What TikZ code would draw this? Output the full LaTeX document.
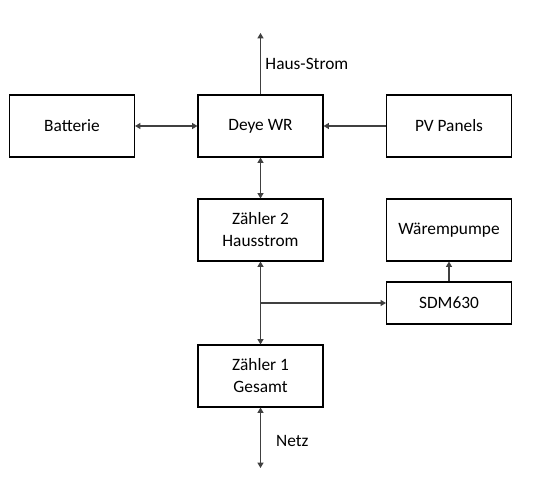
\documentclass[tikz,border=0pt]{standalone}
\usepackage{fontspec}
\setmainfont{Carlito}
\usetikzlibrary{arrows.meta}

\begin{document}
\begin{tikzpicture}[x=0.75pt,y=-0.75pt,
        link/.style={draw=black!75,line width=0.8pt},
        tip/.style={-{Triangle[length=4pt,width=4.5pt]}},
        tips/.style={{Triangle[length=4pt,width=4.5pt]}-{Triangle[length=4pt,width=4.5pt]}}]
        \useasboundingbox (0,0) rectangle (535,481);
        \begin{scope}[every node/.style={rectangle,draw=black,line width=0.8pt,minimum width=93.75pt,minimum height=46.5pt,font=\fontsize{13pt}{16.5pt}\selectfont,align=center}]
            \node (bat) at (72, 126) {Batterie};
            \node (wr) at (260.5, 126) {Deye WR};
            \node (pv) at (449, 126) {PV Panels};
            \node (z2) at (260.5, 230) {Zähler 2\\Hausstrom};
            \node (wp) at (449, 230) {Wärempumpe};
            \node (sdm) [minimum height=31.5pt] at (449, 303) {SDM630};
            \node (z1) at (260.5, 376) {Zähler 1\\Gesamt};
        \end{scope}
        \coordinate (haus) at (260.5, 33);
        \coordinate (netz) at (260.5, 468);
        \coordinate (br) at (260.5, 303);
        \path [tip] (wr) edge[link] node[pos=0.5,anchor=west,font=\fontsize{13pt}{16.5pt}\selectfont,xshift=0pt] {Haus-Strom} (haus);
        \path [tips] (bat) edge[link] (wr);
        \path [tip] (pv) edge[link] (wr);
        \path [tips] (wr) edge[link] (z2);
        \path [tips] (z2) edge[link] (z1);
        \path [tip] (br) edge[link] (sdm);
        \path [tip] (sdm) edge[link] (wp);
        \path [tips] (z1) edge[link] node[pos=0.55,anchor=west,font=\fontsize{13pt}{16.5pt}\selectfont,xshift=8pt] {Netz} (netz);
    \end{tikzpicture}
\end{document}
